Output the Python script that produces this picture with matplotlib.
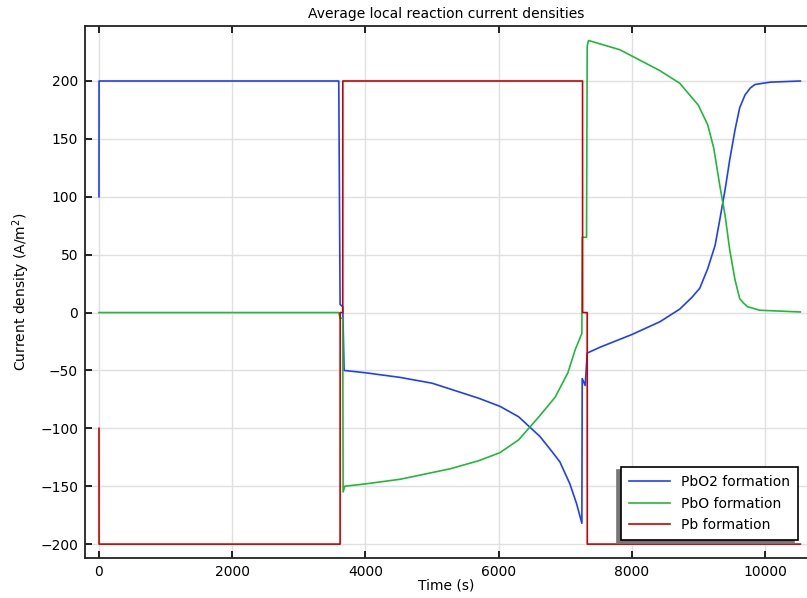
import numpy as np
import matplotlib
matplotlib.use('Agg')
import matplotlib.pyplot as plt

# Time (s) and current densities (A/m^2)
t_pbo2 = [0, 1, 3600, 3620, 3660, 3680, 4000, 4520, 5000, 5270, 5700, 6020, 6300, 6620,
          6800, 6920, 7070, 7170, 7250, 7255, 7300, 7330, 7520, 8000, 8420, 8720,
          8900, 9020, 9140, 9250, 9320, 9400, 9470, 9550, 9620, 9700, 9780, 9850,
          10080, 10530]
pbo2 = [100, 200, 200, 7, 5, -50, -52, -56, -61, -66, -74, -81, -90, -107,
        -120, -129, -148, -165, -182, -57, -63, -35, -30, -19, -8, 3,
        13, 21, 38, 58, 80, 106, 132, 158, 177, 188, 194, 197,
        199, 200]

t_pbo = [0, 3600, 3620, 3660, 3665, 3690, 4000, 4520, 5270, 5700, 6020, 6300, 6620, 6850,
         7040, 7150, 7250, 7255, 7320, 7330, 7350, 7820, 8420, 8720, 9000, 9140,
         9230, 9320, 9400, 9470, 9550, 9620, 9680, 9740, 9920, 10530]
pbo = [0, 0, -5, -5, -155, -150, -148, -144, -135, -128, -121, -110, -89, -73,
       -52, -32, -18, 65, 65, 230, 235, 227, 209, 198, 179, 162,
       142, 110, 84, 54, 28, 12, 8, 5, 2, 0.5]

t_pb = [0, 1, 3620, 3621, 3660, 3661, 7260, 7261, 7330, 7331, 10530]
pb = [-100, -200, -200, 0, 0, 200, 200, 0, 0, -200, -200]

plt.rcParams['font.family'] = 'DejaVu Sans'
fig = plt.figure(figsize=(8.07, 5.98), dpi=100)
ax = fig.add_axes([85/807, 40/598, 722/807, 532/598])

ax.plot(t_pbo2, pbo2, color='#1f3fff', lw=1.2, label='PbO2 formation')
ax.plot(t_pbo, pbo, color='#22b83a', lw=1.2, label='PbO formation')
ax.plot(t_pb, pb, color='#cc0000', lw=1.2, label='Pb formation')

ax.set_xlim(-210, 10630)
ax.set_ylim(-212, 247.5)
ax.set_xticks([0, 2000, 4000, 6000, 8000, 10000])
ax.set_yticks(np.arange(-200, 201, 50))
ax.grid(True, color='#e0e0e0', lw=1)
ax.set_axisbelow(True)
ax.tick_params(direction='in', labelsize=10, length=5, width=1.2, top=True, pad=5)
for s in ax.spines.values():
    s.set_linewidth(1.3)
    s.set_color('#222222')
ax.spines['right'].set_visible(False)

ax.set_title('Average local reaction current densities', fontsize=10)
ax.set_xlabel('Time (s)', fontsize=10, labelpad=0)
ax.set_ylabel('Current density (A/m$^2$)', fontsize=10, labelpad=6)

leg = ax.legend(loc='lower right', bbox_to_anchor=(0.9875, 0.034), borderaxespad=0,
                fontsize=10, fancybox=False, shadow={'ox': -3, 'oy': -2, 'color': '#777777', 'alpha': 1},
                framealpha=1, edgecolor='black', borderpad=0.55, handlelength=3,
                labelspacing=0.55)
leg.get_frame().set_linewidth(1.2)

fig.savefig('out.png', dpi=100)
